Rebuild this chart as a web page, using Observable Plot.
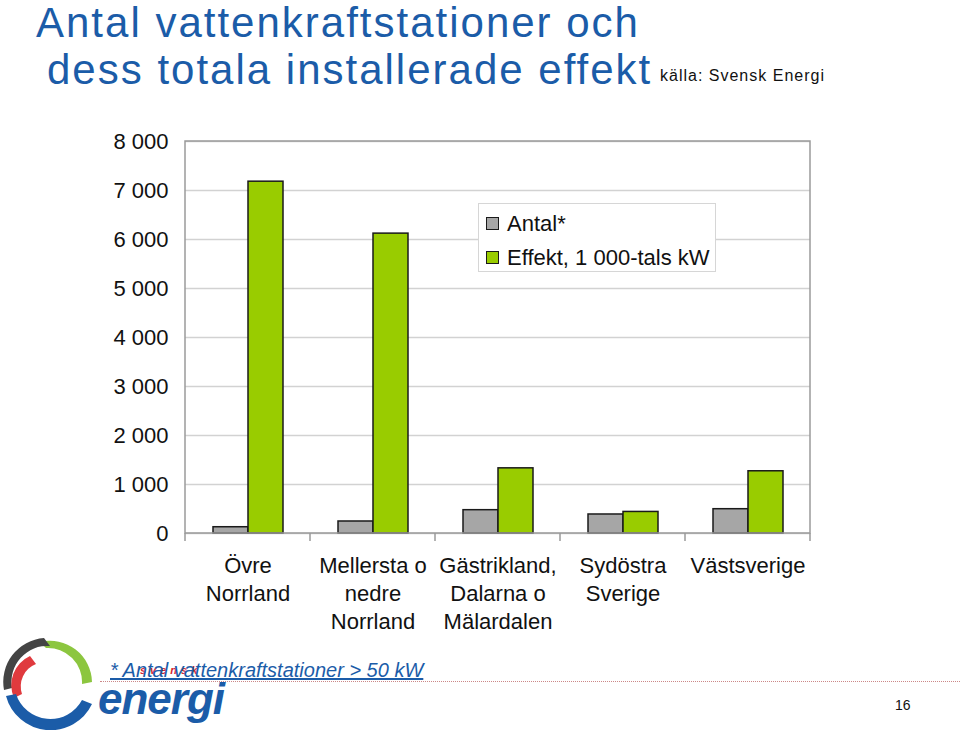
<!DOCTYPE html>
<html><head><meta charset="utf-8">
<script src="https://cdn.jsdelivr.net/npm/d3@7"></script>
<script src="https://cdn.jsdelivr.net/npm/@observablehq/plot@0.6"></script>
<style>
body{margin:0;background:#fff;font-family:"Liberation Sans",Arial,sans-serif;}
#wrap{position:relative;width:960px;height:730px;overflow:hidden;background:#fff;}
.t{position:absolute;white-space:nowrap;}
#title1,#title2{font-size:42px;line-height:46px;letter-spacing:2px;color:#1b5ca8;}
#title1{left:36px;top:0px;}
#title2{left:47px;top:47px;}
#src{left:660px;top:67px;font-size:16px;line-height:18px;letter-spacing:1px;color:#111;}
#chart{position:absolute;left:0;top:120px;}
#legend{position:absolute;left:478px;top:203px;width:236px;height:67px;border:1px solid #d6d6d6;background:#fff;}
.sw{position:absolute;left:7px;width:11px;height:11px;border:1.5px solid #1a1a1a;}
.lt{position:absolute;left:28px;font-size:22px;line-height:22px;color:#111;white-space:nowrap;}
#foot{left:110px;top:660px;font-size:20px;line-height:20px;font-style:italic;color:#1b5ca8;text-decoration:underline;}
#svensk{left:140px;top:665px;font-size:11px;line-height:11px;font-weight:bold;font-style:italic;letter-spacing:4px;color:#d8262e;}
#energi{left:98px;top:681px;font-size:44px;line-height:36px;font-weight:bold;font-style:italic;color:#1b5ca8;letter-spacing:-1px;}
#page{left:895px;top:698px;font-size:14px;line-height:14px;color:#111;}
#dots{position:absolute;left:100px;top:681px;width:860px;height:0;border-top:1px dotted #c88;}
</style></head><body>
<div id="wrap">
  <div class="t" id="title1">Antal vattenkraftstationer och</div>
  <div class="t" id="title2">dess totala installerade effekt</div>
  <div class="t" id="src">källa: Svensk Energi</div>
  <div id="chart"></div>
  <div id="legend"></div>
  <div id="dots"></div>
  <svg style="position:absolute;left:0;top:634px" width="100" height="96" viewBox="0 0 100 96">
    <path d="M40 8 A42 42 0 0 1 92 48 L82 50 A34 34 0 0 0 46 14 Z" fill="#8cc63f"/>
    <path d="M44 4 A44 44 0 0 0 4 56 L12 54 A36 36 0 0 1 50 12 Z" fill="#444"/>
    <path d="M30 22 A32 32 0 0 0 14 64 L22 60 A24 24 0 0 1 36 30 Z" fill="#e03a3e"/>
    <path d="M6 62 A46 46 0 0 0 92 70 L82 66 A36 36 0 0 1 16 60 Z" fill="#1b5ca8"/>
  </svg>
  <div class="t" id="energi">energi</div>
  <div class="t" id="svensk">svensk</div>
  <div class="t" id="foot">* Antal vattenkraftstationer &gt; 50 kW</div>
  <div class="t" id="page">16</div>
</div>
<script>
const categories = ["Övre Norrland", "Mellersta o nedre Norrland", "Gästrikland, Dalarna o Mälardalen", "Sydöstra Sverige", "Västsverige"];
const categoryLabels = ["Övre\nNorrland", "Mellersta o\nnedre\nNorrland", "Gästrikland,\nDalarna o\nMälardalen", "Sydöstra\nSverige", "Västsverige"];
const series = ["Antal*", "Effekt, 1 000-tals kW"];
const seriesColors = ["#a6a6a6", "#99cc00"];
const antal = [128, 245, 476, 388, 496];
const effekt = [7180, 6120, 1330, 440, 1270];
const yTicks = [0, 1000, 2000, 3000, 4000, 5000, 6000, 7000, 8000];

const data = categories.flatMap((c, i) => [
  {cat: c, series: series[0], value: antal[i]},
  {cat: c, series: series[1], value: effekt[i]}
]);
const fmt = d3.formatLocale({thousands: "\u00a0", grouping: [3], decimal: ",", currency: ["", ""]}).format(",");

const W = 960, H = 520, mT = 21, mB = 107, mL = 183, mR = 149;
const chart = Plot.plot({
  width: W, height: H, marginTop: mT, marginBottom: mB, marginLeft: mL, marginRight: mR,
  style: {fontFamily: "Liberation Sans, Arial, sans-serif", background: "transparent", overflow: "visible", color: "#111"},
  fx: {domain: categories, padding: 0, label: null},
  x: {domain: series, paddingInner: 0, paddingOuter: 0.74, axis: null},
  y: {domain: [0, 8000], label: null},
  color: {domain: series, range: seriesColors},
  marks: [
    Plot.gridY(yTicks, {stroke: "#d2d2d2", strokeOpacity: 1, strokeWidth: 1.5}),
    Plot.axisY(yTicks, {tickSize: 0, tickPadding: 17, fontSize: 22, fill: "#111", tickFormat: fmt, label: null}),
    Plot.axisFx({anchor: "bottom", tickSize: 0, tickPadding: 20, fontSize: 22, lineHeight: 1.27, fill: "#111",
      tickFormat: d => categoryLabels[categories.indexOf(d)], label: null}),
    Plot.barY(data, {fx: "cat", x: "series", y: "value", fill: "series", stroke: "#1a1a1a", strokeWidth: 1.5})
  ]
});
document.getElementById("chart").append(chart);

// outer frame and category boundary ticks, from the chart's own scales
const svg = d3.select(chart);
const fxs = chart.scale("fx");
const ys = chart.scale("y");
const y0 = ys.apply(0), yTop = ys.apply(8000);
const bounds = categories.map(c => fxs.apply(c)).concat([fxs.apply(categories[categories.length - 1]) + fxs.bandwidth]);
const g = svg.append("g").attr("stroke", "#9a9a9a").attr("stroke-width", 1.5).attr("fill", "none");
g.append("rect").attr("x", bounds[0]).attr("y", yTop).attr("width", bounds[bounds.length - 1] - bounds[0]).attr("height", y0 - yTop);
bounds.forEach(b => g.append("line").attr("x1", b).attr("x2", b).attr("y1", y0).attr("y2", y0 + 8));

// legend
const leg = document.getElementById("legend");
series.forEach((s, i) => {
  const sw = document.createElement("div");
  sw.className = "sw"; sw.style.top = (13 + i * 34) + "px"; sw.style.background = seriesColors[i];
  const lt = document.createElement("div");
  lt.className = "lt"; lt.style.top = (9 + i * 34) + "px"; lt.textContent = s;
  leg.append(sw, lt);
});
</script>
</body></html>
